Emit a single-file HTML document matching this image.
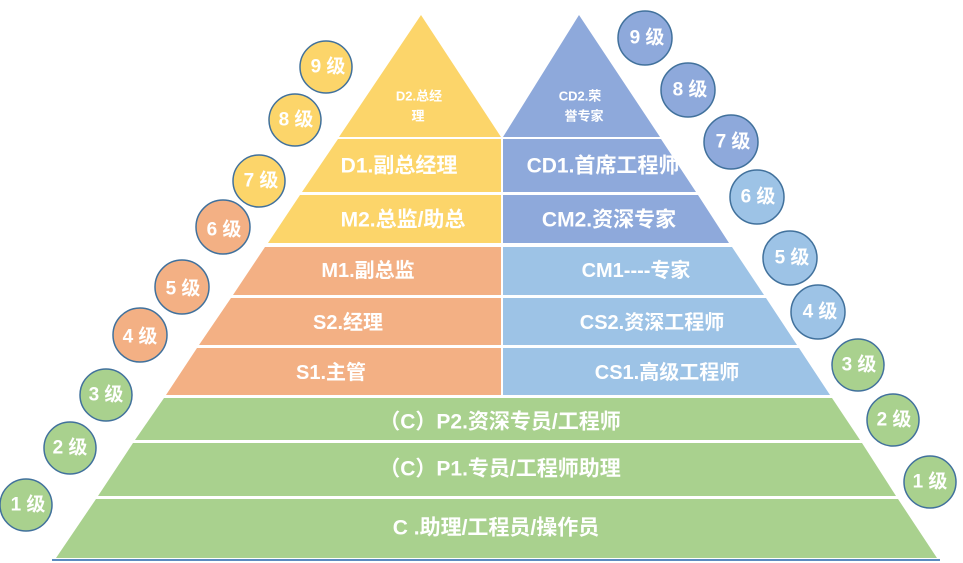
<!DOCTYPE html>
<html><head><meta charset="utf-8"><style>
html,body{margin:0;padding:0;background:#fff;}
svg{display:block;}
text{font-family:"Liberation Sans","Noto Sans CJK SC",sans-serif;fill:#fff;font-weight:bold;text-anchor:middle;dominant-baseline:central;}
</style></head><body>
<svg width="963" height="563" viewBox="0 0 963 563">
<polygon points="421,15 501,137 339,137" fill="#FCD56A"/>
<polygon points="579,15 660,137 503,137" fill="#8EA9DB"/>
<polygon points="338,139 501,139 501,192 302,192" fill="#FCD56A"/>
<polygon points="300,195 501,195 501,243 268,243" fill="#FCD56A"/>
<polygon points="503,139 661,139 696,192 503,192" fill="#8EA9DB"/>
<polygon points="503,195 698,195 729,243 503,243" fill="#8EA9DB"/>
<polygon points="265,247 501,247 501,295 233,295" fill="#F3B084"/>
<polygon points="231,298 501,298 501,345 199,345" fill="#F3B084"/>
<polygon points="197,348 501,348 501,395 166,395" fill="#F3B084"/>
<polygon points="503,247 732,247 764,295 503,295" fill="#9DC3E6"/>
<polygon points="503,298 766,298 797,345 503,345" fill="#9DC3E6"/>
<polygon points="503,348 799,348 830,395 503,395" fill="#9DC3E6"/>
<polygon points="164,398 832,398 860,440 135,440" fill="#A9D18E"/>
<polygon points="133,443 862,443 896,496 98,496" fill="#A9D18E"/>
<polygon points="96,499 898,499 937,558 56,558" fill="#A9D18E"/>
<line x1="52" y1="560" x2="940" y2="560" stroke="#5B8BC0" stroke-width="2"/>

<text x="419" y="96" font-size="13" font-weight="normal">D2.总经</text>
<text x="418" y="116" font-size="13" font-weight="normal">理</text>
<text x="580" y="96" font-size="13" font-weight="normal">CD2.荣</text>
<text x="584" y="116" font-size="13" font-weight="normal">誉专家</text>
<text x="399" y="166" font-size="21">D1.副总经理</text>
<text x="403" y="220" font-size="21">M2.总监/助总</text>
<text x="368" y="271" font-size="20">M1.副总监</text>
<text x="348" y="323" font-size="20">S2.经理</text>
<text x="331" y="373" font-size="20">S1.主管</text>
<text x="603" y="166" font-size="21">CD1.首席工程师</text>
<text x="609" y="220" font-size="21">CM2.资深专家</text>
<text x="636" y="271" font-size="20">CM1----专家</text>
<text x="652" y="323" font-size="20">CS2.资深工程师</text>
<text x="667" y="373" font-size="20">CS1.高级工程师</text>
<text x="500" y="422" font-size="21">（C）P2.资深专员/工程师</text>
<text x="500" y="469" font-size="21">（C）P1.专员/工程师助理</text>
<text x="496" y="528" font-size="21">C .助理/工程员/操作员</text>

<g stroke="#41719C" stroke-width="1.5">
<circle cx="326" cy="67" r="26" fill="#FCD56A"/>
<circle cx="295" cy="120" r="26" fill="#FCD56A"/>
<circle cx="259" cy="181" r="26" fill="#FCD56A"/>
<circle cx="223" cy="227" r="27" fill="#F3B084"/>
<circle cx="182" cy="287" r="27" fill="#F3B084"/>
<circle cx="140" cy="335" r="27" fill="#F3B084"/>
<circle cx="106" cy="395" r="26" fill="#A9D18E"/>
<circle cx="70" cy="448" r="26" fill="#A9D18E"/>
<circle cx="26" cy="505" r="26" fill="#A9D18E"/>
<circle cx="645" cy="38" r="27" fill="#8EA9DB"/>
<circle cx="688" cy="90" r="27" fill="#8EA9DB"/>
<circle cx="731" cy="142" r="27" fill="#8EA9DB"/>
<circle cx="757" cy="197" r="27" fill="#9DC3E6"/>
<circle cx="790" cy="258" r="27" fill="#9DC3E6"/>
<circle cx="818" cy="312" r="27" fill="#9DC3E6"/>
<circle cx="858" cy="365" r="26" fill="#A9D18E"/>
<circle cx="893" cy="420" r="26" fill="#A9D18E"/>
<circle cx="930" cy="482" r="26" fill="#A9D18E"/>
</g>
<g font-size="19">
<text x="328" y="67">9 级</text>
<text x="296" y="120">8 级</text>
<text x="261" y="181">7 级</text>
<text x="224" y="230">6 级</text>
<text x="183" y="289">5 级</text>
<text x="140" y="337">4 级</text>
<text x="106" y="395">3 级</text>
<text x="70" y="448">2 级</text>
<text x="28" y="505">1 级</text>
<text x="647" y="38">9 级</text>
<text x="690" y="90">8 级</text>
<text x="733" y="142">7 级</text>
<text x="758" y="197">6 级</text>
<text x="792" y="258">5 级</text>
<text x="820" y="312">4 级</text>
<text x="859" y="365">3 级</text>
<text x="894" y="420">2 级</text>
<text x="930" y="482">1 级</text>
</g>
</svg>
</body></html>
